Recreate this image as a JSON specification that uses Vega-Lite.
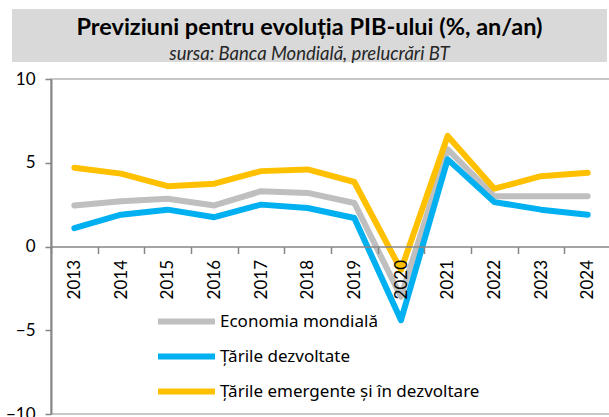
{
  "$schema": "https://vega.github.io/schema/vega-lite/v6.json",
  "background": "white",
  "padding": {"left": 4, "top": 9, "right": 0, "bottom": 3},
  "spacing": 17,
  "bounds": "flush",
  "config": {
    "view": {"stroke": null}
  },
  "vconcat": [
    {
      "width": 595,
      "height": 53,
      "view": {"fill": "#d9d9d9", "stroke": null},
      "data": {"values": [
        {"kind": "title", "text": "Previziuni pentru evoluția PIB-ului (%, an/an)"},
        {"kind": "sub", "text": "sursa: Banca Mondială, prelucrări BT"}
      ]},
      "layer": [
        {
          "transform": [{"filter": "datum.kind === 'title'"}],
          "mark": {"type": "text", "font": "Liberation Sans Narrow, Lato", "fontWeight": "bold", "fontSize": 23.5, "baseline": "alphabetic", "align": "center", "color": "#000000"},
          "encoding": {
            "y": {"field": "kind", "type": "nominal", "axis": null, "scale": {"type": "point", "padding": 0, "domain": ["title", "sub"], "range": [26, 51]}},
            "text": {"field": "text"}
          }
        },
        {
          "transform": [{"filter": "datum.kind === 'sub'"}],
          "mark": {"type": "text", "font": "Liberation Sans Narrow, Lato", "fontStyle": "italic", "fontSize": 18.5, "baseline": "alphabetic", "align": "center", "color": "#262626"},
          "encoding": {
            "y": {"field": "kind", "type": "nominal", "axis": null, "scale": {"type": "point", "padding": 0, "domain": ["title", "sub"], "range": [26, 51]}},
            "text": {"field": "text"}
          }
        }
      ]
    },
    {
      "bounds": "flush",
      "spacing": 17,
      "hconcat": [
        {
          "width": 22,
          "height": 335,
          "data": {"values": []},
          "mark": {"type": "point", "opacity": 0},
          "encoding": {}
        },
        {
          "width": 560,
          "height": 335,
          "view": {"stroke": "#c8c8c8", "strokeWidth": 2},
          "data": {"values": [
            {"year": "2013", "series": "Economia mondială", "value": 2.45},
            {"year": "2014", "series": "Economia mondială", "value": 2.7},
            {"year": "2015", "series": "Economia mondială", "value": 2.85},
            {"year": "2016", "series": "Economia mondială", "value": 2.45},
            {"year": "2017", "series": "Economia mondială", "value": 3.3},
            {"year": "2018", "series": "Economia mondială", "value": 3.2},
            {"year": "2019", "series": "Economia mondială", "value": 2.6},
            {"year": "2020", "series": "Economia mondială", "value": -3.0},
            {"year": "2021", "series": "Economia mondială", "value": 5.8},
            {"year": "2022", "series": "Economia mondială", "value": 3.0},
            {"year": "2023", "series": "Economia mondială", "value": 3.0},
            {"year": "2024", "series": "Economia mondială", "value": 3.0},
            {"year": "2013", "series": "Țările dezvoltate", "value": 1.1},
            {"year": "2014", "series": "Țările dezvoltate", "value": 1.9},
            {"year": "2015", "series": "Țările dezvoltate", "value": 2.2},
            {"year": "2016", "series": "Țările dezvoltate", "value": 1.75},
            {"year": "2017", "series": "Țările dezvoltate", "value": 2.5},
            {"year": "2018", "series": "Țările dezvoltate", "value": 2.3},
            {"year": "2019", "series": "Țările dezvoltate", "value": 1.7},
            {"year": "2020", "series": "Țările dezvoltate", "value": -4.4},
            {"year": "2021", "series": "Țările dezvoltate", "value": 5.2},
            {"year": "2022", "series": "Țările dezvoltate", "value": 2.65},
            {"year": "2023", "series": "Țările dezvoltate", "value": 2.2},
            {"year": "2024", "series": "Țările dezvoltate", "value": 1.9},
            {"year": "2013", "series": "Țările emergente și în dezvoltare", "value": 4.7},
            {"year": "2014", "series": "Țările emergente și în dezvoltare", "value": 4.35},
            {"year": "2015", "series": "Țările emergente și în dezvoltare", "value": 3.6},
            {"year": "2016", "series": "Țările emergente și în dezvoltare", "value": 3.75},
            {"year": "2017", "series": "Țările emergente și în dezvoltare", "value": 4.5},
            {"year": "2018", "series": "Țările emergente și în dezvoltare", "value": 4.6},
            {"year": "2019", "series": "Țările emergente și în dezvoltare", "value": 3.85},
            {"year": "2020", "series": "Țările emergente și în dezvoltare", "value": -1.4},
            {"year": "2021", "series": "Țările emergente și în dezvoltare", "value": 6.6},
            {"year": "2022", "series": "Țările emergente și în dezvoltare", "value": 3.45},
            {"year": "2023", "series": "Țările emergente și în dezvoltare", "value": 4.2},
            {"year": "2024", "series": "Țările emergente și în dezvoltare", "value": 4.4}
          ]},
          "mark": {"type": "line", "strokeWidth": 6, "strokeJoin": "round", "strokeCap": "round"},
          "encoding": {
            "x": {
              "field": "year", "type": "ordinal",
              "scale": {"paddingInner": 0, "paddingOuter": 0},
              "axis": {
                "title": null, "offset": -167.5, "labelAngle": -90, "labelAlign": "right", "labelBaseline": "middle",
                "labelFont": "Lato", "labelFontSize": 17, "labelColor": "#000000", "labelPadding": 6,
                "tickBand": "extent", "tickSize": 7, "tickColor": "#868686", "tickWidth": 1.5,
                "domainColor": "#868686", "domainWidth": 1.5, "grid": false, "zindex": 1
              }
            },
            "y": {
              "field": "value", "type": "quantitative",
              "scale": {"domain": [-10, 10], "nice": false},
              "axis": {
                "title": null, "values": [-10, -5, 0, 5, 10], "grid": false,
                "labelFont": "Lato", "labelFontSize": 17, "labelColor": "#000000", "labelPadding": 10,
                "tickSize": 6, "tickColor": "#868686", "tickWidth": 1.5,
                "domainColor": "#868686", "domainWidth": 2
              }
            },
            "color": {
              "field": "series", "type": "nominal",
              "scale": {"domain": ["Economia mondială", "Țările dezvoltate", "Țările emergente și în dezvoltare"], "range": ["#bfbfbf", "#00b0f0", "#ffc000"]},
              "legend": {
                "title": null, "orient": "none", "legendX": 157, "legendY": 295, "padding": 0,
                "symbolType": "M-2,0H2", "symbolSize": 812, "symbolStrokeWidth": 6,
                "labelFont": "Noto Sans", "labelFontSize": 17, "labelColor": "#000000", "labelOffset": 16,
                "labelLimit": 400, "rowPadding": 5
              }
            }
          }
        }
      ]
    }
  ]
}
